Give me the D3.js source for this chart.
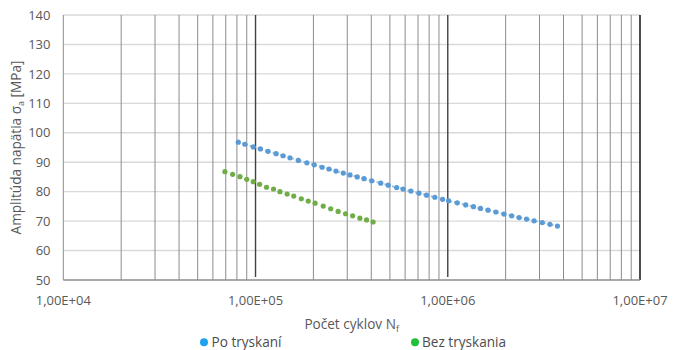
<!DOCTYPE html>
<html>
<head>
<meta charset="utf-8">
<script src="https://cdn.jsdelivr.net/npm/d3@7/dist/d3.min.js"></script>
<style>
  html, body { margin: 0; padding: 0; background: #fff; }
  svg { display: block; font-family: "Open Sans", Lato, sans-serif; }
</style>
</head>
<body>
<svg id="chart" width="677" height="350"></svg>
<script>
// Number of cycles to failure (N) and stress amplitude (MPa)
const poTryskaniN = [8.13e4, 8.81e4, 9.73e4, 1.06e5, 1.16e5, 1.28e5, 1.39e5, 1.51e5, 1.67e5, 1.85e5,
  2.02e5, 2.22e5, 2.41e5, 2.62e5, 2.86e5, 3.10e5, 3.38e5, 3.67e5, 4.02e5, 4.48e5,
  4.90e5, 5.42e5, 5.86e5, 6.43e5, 7.08e5, 7.76e5, 8.57e5, 9.40e5, 1.01e6, 1.12e6,
  1.24e6, 1.36e6, 1.48e6, 1.62e6, 1.78e6, 1.96e6, 2.15e6, 2.35e6, 2.57e6, 2.81e6,
  3.10e6, 3.40e6, 3.72e6];
const poTryskaniS = [96.8, 96.1, 95.2, 94.5, 93.7, 92.9, 92.2, 91.5, 90.6, 89.8,
  89.1, 88.3, 87.7, 87.0, 86.3, 85.7, 85.0, 84.4, 83.7, 82.9,
  82.2, 81.4, 80.9, 80.2, 79.5, 78.8, 78.1, 77.4, 76.9, 76.2,
  75.5, 74.9, 74.3, 73.7, 73.1, 72.4, 71.8, 71.2, 70.7, 70.1,
  69.5, 68.9, 68.3];

const bezTryskaniaN = [6.93e4, 7.60e4, 8.30e4, 9.00e4, 9.73e4, 1.05e5, 1.14e5, 1.24e5, 1.34e5, 1.46e5,
  1.58e5, 1.73e5, 1.88e5, 2.04e5, 2.25e5, 2.46e5, 2.69e5, 2.94e5, 3.20e5, 3.49e5,
  3.78e5, 4.09e5];
const bezTryskaniaS = [86.8, 85.9, 85.1, 84.2, 83.4, 82.5, 81.5, 80.9, 80.0, 79.2,
  78.5, 77.6, 76.8, 76.1, 75.1, 74.2, 73.3, 72.5, 71.8, 71.0,
  70.4, 69.7];

const xTickValues = [1e4, 1e5, 1e6, 1e7];
const xTickLabels = ["1,00E+04", "1,00E+05", "1,00E+06", "1,00E+07"];
const yTickValues = [50, 60, 70, 80, 90, 100, 110, 120, 130, 140];

const seriesNames = ["Po tryskaní", "Bez tryskania"];

const svg = d3.select("#chart");
const plotLeft = 63.3, plotRight = 640, plotTop = 15, plotBottom = 280;

const x = d3.scaleLog().domain([1e4, 1e7]).range([plotLeft, plotRight]);
const y = d3.scaleLinear().domain([50, 140]).range([plotBottom, plotTop]);

const textColor = "#595959";
const fontSize = "13px";
const titleSize = "13.6px";

// horizontal gridlines
svg.append("g").selectAll("line")
  .data(yTickValues.filter(v => v > 50))
  .join("line")
  .attr("x1", plotLeft).attr("x2", plotRight)
  .attr("y1", d => y(d)).attr("y2", d => y(d))
  .attr("stroke", "#d9d9d9").attr("stroke-width", 1.4);

// vertical gridlines: minor (2..9 × 10^k) and decade lines
const minor = [];
[1e4, 1e5, 1e6].forEach(dec => { for (let m = 2; m <= 9; m++) minor.push(m * dec); });
svg.append("g").selectAll("line")
  .data(minor)
  .join("line")
  .attr("x1", d => x(d)).attr("x2", d => x(d))
  .attr("y1", plotTop).attr("y2", plotBottom)
  .attr("stroke", "#8c8c8c").attr("stroke-width", 1);

svg.append("g").selectAll("line")
  .data([1e5, 1e6])
  .join("line")
  .attr("x1", d => x(d)).attr("x2", d => x(d))
  .attr("y1", plotTop).attr("y2", plotBottom - 3)
  .attr("stroke", "#404040").attr("stroke-width", 1.4);

// left edge (1e4) and right edge (1e7)
svg.append("line")
  .attr("x1", x(1e4)).attr("x2", x(1e4)).attr("y1", plotTop).attr("y2", plotBottom)
  .attr("stroke", "#8c8c8c").attr("stroke-width", 1);
svg.append("line")
  .attr("x1", x(1e7)).attr("x2", x(1e7)).attr("y1", plotTop).attr("y2", plotBottom)
  .attr("stroke", "#000").attr("stroke-width", 1.4);

// bottom axis line
svg.append("line")
  .attr("x1", plotLeft).attr("x2", plotRight).attr("y1", plotBottom).attr("y2", plotBottom)
  .attr("stroke", "#8c8c8c").attr("stroke-width", 1.3);

// y tick labels
svg.append("g").selectAll("text")
  .data(yTickValues)
  .join("text")
  .attr("x", 50.5).attr("y", d => y(d))
  .attr("dy", "0.36em")
  .attr("text-anchor", "end")
  .attr("fill", textColor).attr("font-size", fontSize)
  .text(d => d);

// x tick labels
svg.append("g").selectAll("text")
  .data(xTickValues)
  .join("text")
  .attr("x", d => x(d)).attr("y", 305)
  .attr("text-anchor", "middle")
  .attr("fill", textColor).attr("font-size", fontSize)
  .text((d, i) => xTickLabels[i]);

// axis titles
const xt = svg.append("text")
  .attr("x", (plotLeft + plotRight) / 2).attr("y", 329)
  .attr("text-anchor", "middle")
  .attr("fill", textColor).attr("font-size", titleSize);
xt.append("tspan").text("Počet cyklov N");
xt.append("tspan").attr("font-size", "9px").attr("dy", "3").text("f");

const yt = svg.append("text")
  .attr("transform", `translate(20.5,${(plotTop + plotBottom) / 2}) rotate(-90)`)
  .attr("text-anchor", "middle")
  .attr("fill", textColor).attr("font-size", titleSize);
yt.append("tspan").text("Amplitúda napätia σ");
yt.append("tspan").attr("font-size", "9px").attr("dy", "3").text("a");
yt.append("tspan").attr("dy", "-3").text(" [MPa]");

// data: Po tryskaní (dotted connecting line + markers)
const blue = poTryskaniN.map((n, i) => [n, poTryskaniS[i]]);
const green = bezTryskaniaN.map((n, i) => [n, bezTryskaniaS[i]]);

const line = d3.line().x(d => x(d[0])).y(d => y(d[1]));
svg.append("path")
  .datum(blue)
  .attr("d", line)
  .attr("fill", "none")
  .attr("stroke", "#9dc3e6").attr("stroke-width", 2)
  .attr("stroke-dasharray", "2 2");

svg.append("g").selectAll("circle")
  .data(blue)
  .join("circle")
  .attr("cx", d => x(d[0])).attr("cy", d => y(d[1]))
  .attr("r", 2.6)
  .attr("fill", "#5b9bd5");

svg.append("g").selectAll("circle")
  .data(green)
  .join("circle")
  .attr("cx", d => x(d[0])).attr("cy", d => y(d[1]))
  .attr("r", 2.6)
  .attr("fill", "#70ad47");

// legend
const legend = [
  { name: seriesNames[0], color: "#1ea0f0", cx: 204, tx: 211.5 },
  { name: seriesNames[1], color: "#22c03a", cx: 415, tx: 422 }
];
const lg = svg.append("g").selectAll("g").data(legend).join("g");
lg.append("circle")
  .attr("cx", d => d.cx).attr("cy", 342.3).attr("r", 4)
  .attr("fill", d => d.color);
lg.append("text")
  .attr("x", d => d.tx).attr("y", 342.3).attr("dy", "0.36em")
  .attr("fill", "#4d4d4d").attr("font-size", titleSize)
  .text(d => d.name);
</script>
</body>
</html>
